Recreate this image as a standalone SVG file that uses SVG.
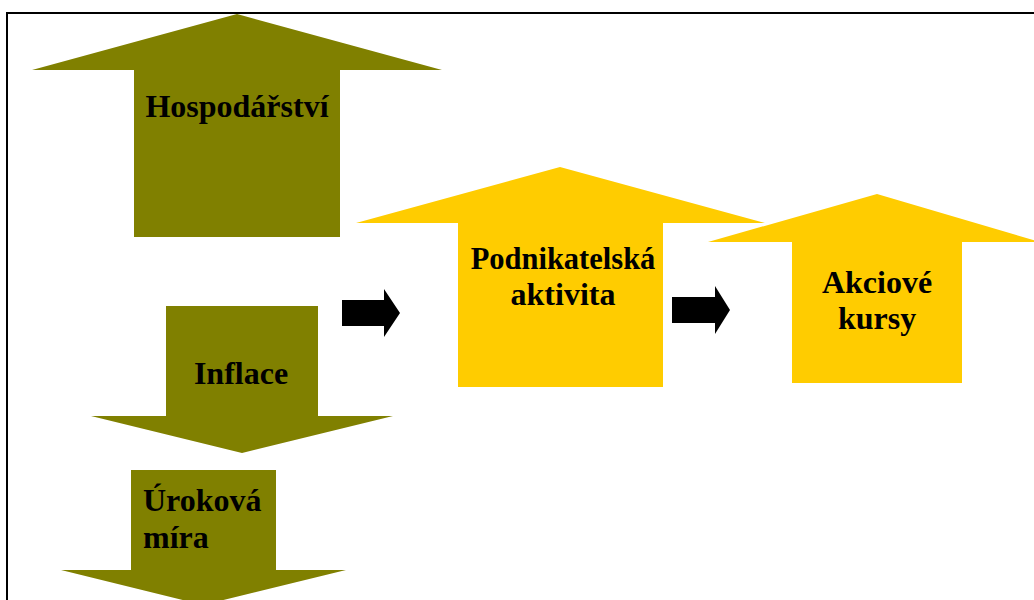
<svg xmlns="http://www.w3.org/2000/svg" width="1034" height="600" viewBox="0 0 1034 600">
<style>
.olive{fill:#808000}
.gold{fill:#FFCC00}
.blk{fill:#000}
text{font-family:"Liberation Serif","Times New Roman",serif;font-weight:bold;font-size:32px;fill:#000}
.c{text-anchor:middle}
</style>
<rect width="1034" height="600" fill="#fff"/>
<path d="M7,610 V13 H1040" fill="none" stroke="#000" stroke-width="2"/>
<g id="hospodarstvi">
<polygon class="olive" points="237,14 442,70 340,70 340,237 134,237 134,70 32,70"/>
<text class="c" x="237" y="117">Hospodářství</text>
</g>
<g id="inflace">
<polygon class="olive" points="166,306 318,306 318,416 393,416 242,453 91,416 166,416"/>
<text class="c" x="241" y="384">Inflace</text>
</g>
<g id="urokova-mira">
<polygon class="olive" points="131,470 276,470 276,570 346,570 203,605 61,570 131,570"/>
<text x="143" y="511">Úroková</text>
<text x="143" y="548">míra</text>
</g>
<g id="podnikatelska-aktivita">
<polygon class="gold" points="560,167 765,223 663,223 663,387 458,387 458,223 356,223"/>
<text class="c" x="563" y="269" style="font-size:30.5px">Podnikatelská</text>
<text class="c" x="563" y="305">aktivita</text>
</g>
<g id="akciove-kursy">
<polygon class="gold" points="877,194 1040,242 962,242 962,383 792,383 792,242 708,242"/>
<text class="c" x="877" y="293">Akciové</text>
<text class="c" x="877" y="329">kursy</text>
</g>
<g id="connectors">
<polygon class="blk" points="342,300 384,300 384,289 400,313 384,337 384,326 342,326"/>
<polygon class="blk" points="672,297 715,297 715,286 730,310 715,334 715,323 672,323"/>
</g>
</svg>
